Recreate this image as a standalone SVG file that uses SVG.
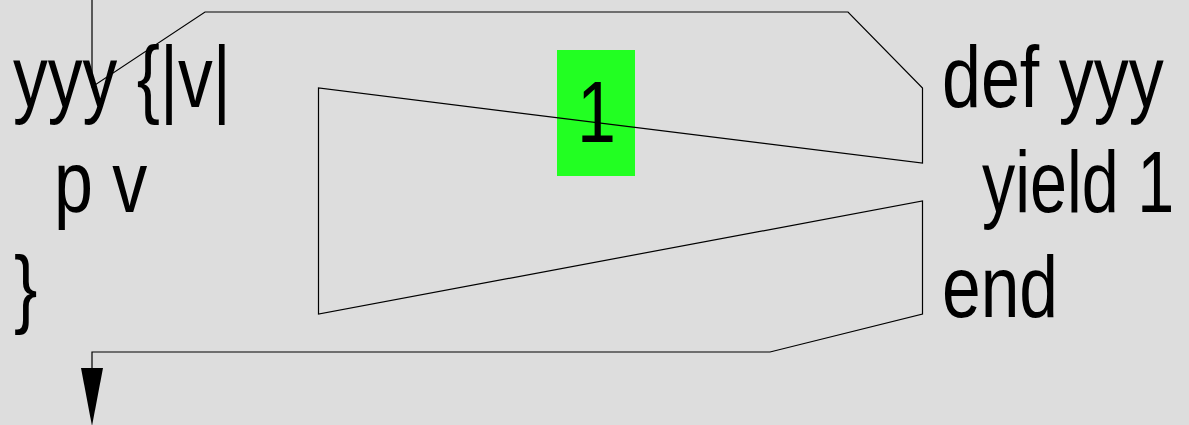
<svg xmlns="http://www.w3.org/2000/svg" width="1189" height="425" viewBox="0 0 1189 425">
<style>
.t{font-family:"Liberation Sans",Arial,sans-serif;font-size:87.5px;fill:#000}
.c{fill:none;stroke:#000;stroke-width:1.2}
</style>
<rect width="1189" height="425" fill="#dddddd"/>
<g id="value">
<rect x="557" y="50" width="78" height="126" fill="#22ff22"/>
<text class="t" transform="translate(577,142) scale(0.8,1)" x="0" y="0">1</text>
</g>
<g id="connectors">
<path class="c" d="M92,0 L92,87 L205,12 L848,12 L922.5,88 L922.5,163 L318.5,88 L318.5,314 L922.5,201 L922.5,314 L770,352 L92,352 L92,370"/>
<polygon points="81,368 103,368 92,426" fill="#000"/>
</g>
<g id="block">
<text class="t" transform="translate(13,107) scale(0.795,1)" x="0" y="0">yyy {|v|</text>
<text class="t" transform="translate(54,212) scale(0.8,1)" x="0" y="0">p v</text>
<text class="t" transform="translate(14,317) scale(0.8,1)" x="0" y="0">}</text>
</g>
<g id="method">
<text class="t" transform="translate(942,107) scale(0.8,1)" x="0" y="0">def yyy</text>
<text class="t" transform="translate(982,212) scale(0.76,1)" x="0" y="0">yield 1</text>
<text class="t" transform="translate(942,317) scale(0.795,1)" x="0" y="0">end</text>
</g>
</svg>
